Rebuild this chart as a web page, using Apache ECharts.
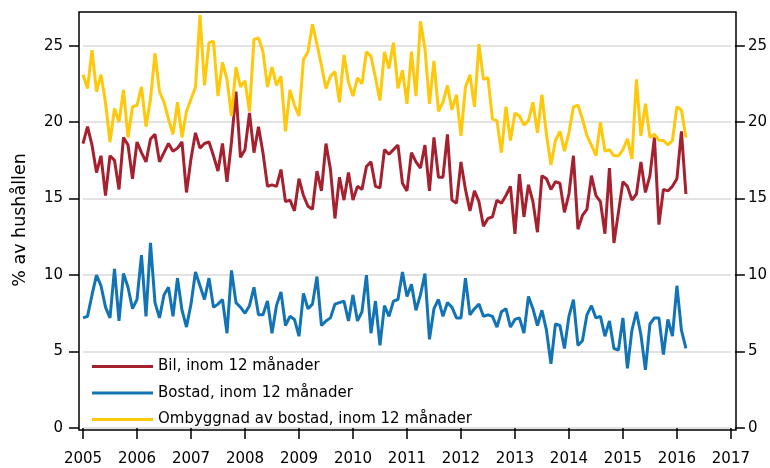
<!DOCTYPE html>
<html>
<head>
<meta charset="utf-8">
<script src="https://cdn.jsdelivr.net/npm/echarts@6/dist/echarts.min.js"></script>
<style>
html, body { margin: 0; padding: 0; background: #fff; }
#chart { width: 770px; height: 468px; }
</style>
</head>
<body>
<div id="chart"></div>
<script>
// monthly series, January 2005 onwards
var startYear = 2005;
var seriesNames = ['Bil, inom 12 månader', 'Bostad, inom 12 månader', 'Ombyggnad av bostad, inom 12 månader'];
var yTicks = [0, 5, 10, 15, 20, 25];

var bil = [
    18.6, 19.7, 18.5, 16.7, 17.8, 15.2, 17.8, 17.5, 15.6, 19.0, 18.5, 16.3,
    18.7, 18.0, 17.4, 18.9, 19.2, 17.4, 18.0, 18.6, 18.1, 18.3, 18.7, 15.4,
    17.6, 19.3, 18.3, 18.6, 18.7, 17.8, 16.8, 18.6, 16.1, 18.7, 22.0, 17.7,
    18.2, 20.6, 18.0, 19.7, 18.0, 15.8, 15.9, 15.8, 16.9, 14.8, 14.9, 14.2,
    16.3, 15.2, 14.5, 14.3, 16.8, 15.5, 18.6, 16.9, 13.7, 16.4, 14.9, 16.7,
    14.9, 15.8, 15.6, 17.1, 17.4, 15.8, 15.7, 18.2, 17.9, 18.2, 18.5, 16.0,
    15.5, 18.0, 17.4, 17.0, 18.5, 15.5, 19.0, 16.4, 16.4, 19.2, 14.9, 14.7,
    17.4, 15.6, 14.2, 15.5, 14.8, 13.2, 13.7, 13.8, 14.9, 14.7, 15.2, 15.8,
    12.7, 16.6, 13.8, 15.9, 14.8, 12.8, 16.5, 16.3, 15.6, 16.1, 16.0, 14.1,
    15.3, 17.8, 13.0, 13.9, 14.3, 16.5, 15.2, 14.8, 12.7, 17.0, 12.1, 14.1,
    16.1, 15.8, 14.9, 15.3, 17.4, 15.4, 16.5, 19.0, 13.3, 15.6, 15.5, 15.8,
    16.3, 19.4, 15.3
];

var bostad = [
    7.2, 7.3, 8.7, 10.0, 9.3, 7.9, 7.2, 10.4, 7.0, 10.1, 9.2, 7.8,
    8.4, 11.3, 7.3, 12.1, 8.2, 7.2, 8.7, 9.2, 7.3, 9.8, 7.7, 6.6,
    8.1, 10.2, 9.3, 8.4, 9.8, 7.9, 8.1, 8.4, 6.2, 10.3, 8.2, 7.9,
    7.5, 8.0, 9.2, 7.4, 7.4, 8.3, 6.2, 8.0, 8.9, 6.7, 7.3, 7.1,
    6.0, 8.8, 7.8, 8.1, 9.9, 6.7, 7.0, 7.2, 8.1, 8.2, 8.3, 7.0,
    8.7, 7.0, 7.6, 10.0, 6.2, 8.3, 5.4, 8.0, 7.3, 8.3, 8.4, 10.2,
    8.6, 9.4, 7.7, 8.7, 10.1, 5.8, 7.8, 8.4, 7.3, 8.2, 7.9, 7.2,
    7.2, 9.8, 7.4, 7.8, 8.1, 7.3, 7.4, 7.3, 6.6, 7.6, 7.8, 6.6,
    7.1, 7.2, 6.2, 8.6, 7.8, 6.7, 7.7, 6.4, 4.2, 6.8, 6.7, 5.2,
    7.3, 8.4, 5.4, 5.7, 7.4, 8.0, 7.2, 7.3, 6.0, 7.0, 5.2, 5.1,
    7.2, 3.9, 6.4, 7.6, 6.1, 3.8, 6.8, 7.2, 7.2, 4.8, 7.1, 6.0,
    9.3, 6.4, 5.2
];

var ombyggnad = [
    23.1, 22.2, 24.7, 22.0, 23.1, 21.3, 18.7, 20.9, 20.0, 22.1, 19.0, 21.0,
    21.1, 22.3, 19.7, 21.5, 24.5, 22.0, 21.3, 20.2, 19.2, 21.3, 19.0, 20.7,
    21.5, 22.3, 27.0, 22.4, 25.2, 25.3, 21.7, 23.9, 22.8, 20.4, 23.6, 22.3,
    22.7, 20.7, 25.4, 25.5, 24.6, 22.3, 23.6, 22.4, 23.0, 19.4, 22.1, 21.1,
    20.4, 24.1, 24.6, 26.4, 25.1, 23.7, 22.2, 23.0, 23.3, 21.3, 24.4, 22.6,
    21.7, 22.9, 22.5, 24.6, 24.3, 22.9, 21.4, 24.6, 23.5, 25.2, 22.2, 23.4,
    21.2, 24.6, 21.7, 26.6, 24.8, 21.2, 24.0, 20.7, 21.3, 22.4, 20.8, 21.8,
    19.1, 22.3, 23.1, 21.0, 25.1, 22.8, 22.9, 20.2, 20.1, 18.0, 21.0, 18.8,
    20.6, 20.4, 19.8, 20.1, 21.3, 19.3, 21.8, 19.2, 17.2, 18.8, 19.4, 18.1,
    19.3, 21.0, 21.1, 20.2, 19.1, 18.5, 17.8, 20.0, 18.1, 18.2, 17.8, 17.8,
    18.2, 18.9, 17.6, 22.8, 19.1, 21.2, 19.0, 19.2, 18.8, 18.8, 18.5, 18.8,
    21.0, 20.8, 19.0
];

var colors = ['#A6212F', '#1273B5', '#FFC80A'];

function toPairs(values) {
    return values.map(function (v, i) {
        return [startYear + i / 12, v];
    });
}

var chart = echarts.init(document.getElementById('chart'));
var font = 'DejaVu Sans';
var tickStyle = { color: '#000', width: 1.5 };

function lineSeries(idx, values) {
    return {
        type: 'line',
        name: seriesNames[idx],
        data: toPairs(values),
        showSymbol: false,
        symbol: 'none',
        lineStyle: { width: 3, color: colors[idx] },
        itemStyle: { color: colors[idx] }
    };
}

var option = {
    animation: false,
    textStyle: { fontFamily: font },
    grid: { left: 83, right: 38.5, top: 12, bottom: 40 },
    xAxis: {
        type: 'value',
        min: 2005,
        max: 2017,
        interval: 1,
        offset: 2,
        axisLine: { show: false },
        axisTick: { show: true, length: 11, lineStyle: tickStyle },
        axisLabel: {
            color: '#000', fontSize: 15, fontFamily: font, margin: 22,
            formatter: function (v) { return String(v); }
        },
        splitLine: { show: false }
    },
    yAxis: [ {
        type: 'value',
        min: 0,
        max: 27.2,
        interval: 5,
        position: 'left',
        offset: 4,
        name: '% av hushållen',
        nameLocation: 'middle',
        nameGap: 50,
        nameTextStyle: { color: '#000', fontSize: 17.5, fontFamily: font },
        axisLine: { show: false },
        axisTick: { show: true, length: 10, lineStyle: tickStyle, customValues: yTicks },
        axisLabel: { color: '#000', fontSize: 15, fontFamily: font, margin: 16, customValues: yTicks },
        splitLine: { show: true, lineStyle: { color: '#dadada', width: 1.5 } }
    }, {
        type: 'value',
        min: 0,
        max: 27.2,
        interval: 5,
        position: 'right',
        offset: 4,
        axisLine: { show: false },
        axisTick: { show: true, length: 10, lineStyle: tickStyle, customValues: yTicks },
        axisLabel: { color: '#000', fontSize: 15, fontFamily: font, margin: 13, customValues: yTicks },
        splitLine: { show: false }
    } ],
    legend: {
        orient: 'vertical',
        left: 87,
        top: 354,
        icon: 'rect',
        itemWidth: 61,
        itemHeight: 3,
        itemGap: 11.5,
        textStyle: { color: '#000', fontSize: 15, fontFamily: font },
        data: seriesNames
    },
    graphic: [ {
        type: 'rect',
        z: 100,
        shape: { x: 79, y: 12, width: 657, height: 418 },
        style: { fill: null, stroke: '#000', lineWidth: 1.5 }
    } ],
    series: [
        lineSeries(0, bil),
        lineSeries(1, bostad),
        lineSeries(2, ombyggnad)
    ]
};

chart.setOption(option);
</script>
</body>
</html>
